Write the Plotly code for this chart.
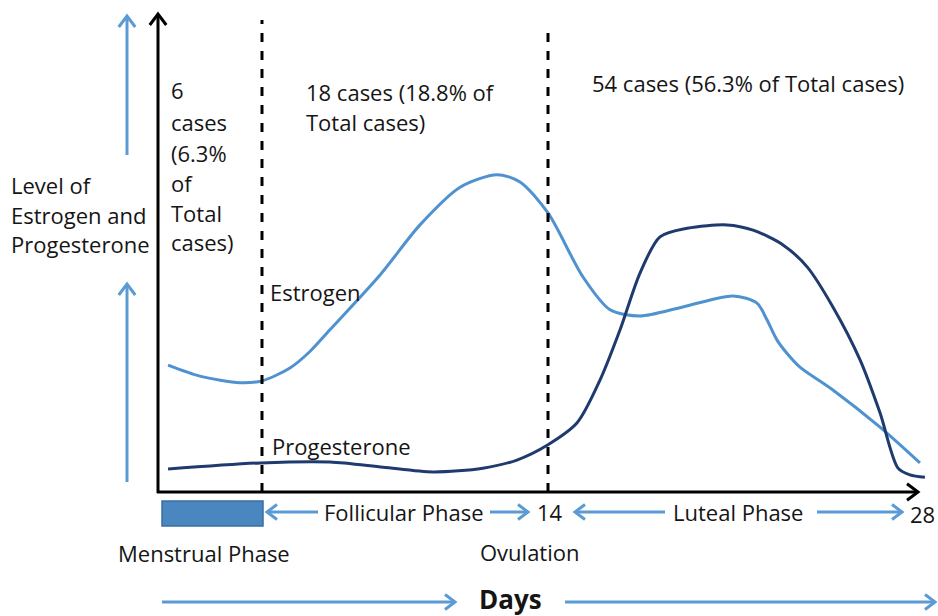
import math
import plotly.graph_objects as go

# ---------------- data (days, relative hormone level) ----------------
estrogen_day = [0.29, 1.44, 2.89, 3.68, 4.69, 5.4, 6.13, 7.94, 9.38, 10.83, 12.16, 12.99, 14.0,
                15.26, 16.24, 17.32, 18.87, 20.68, 21.54, 21.90, 22.26, 22.62, 23.09, 24.28, 25.98, 27.42]
estrogen_lvl = [26.6, 24.3, 22.9, 23.3, 26.0, 29.4, 34.0, 45.5, 56.0, 63.9, 66.5, 65.0, 58.5,
                45.1, 38.2, 36.9, 38.8, 41.1, 39.6, 36.1, 31.9, 29.1, 26.2, 21.4, 13.6, 6.1]

progesterone_day = [0.29, 3.61, 6.13, 8.05, 9.85, 11.65, 12.88, 14.0, 15.05, 15.88, 16.60, 17.32,
                    18.04, 19.02, 20.46, 21.40, 22.48, 23.35, 24.28, 25.26, 25.98, 26.63, 27.06, 27.60]
progesterone_lvl = [4.8, 6.1, 6.3, 5.2, 4.2, 5.0, 6.7, 9.9, 14.5, 23.5, 34.0, 45.9,
                    53.5, 55.3, 56.0, 54.9, 51.8, 47.2, 38.8, 27.7, 16.6, 5.0, 3.6, 3.1]

menstrual_end_day = 3.68
ovulation_day = 14
tick_labels = ["14", "28"]

case_texts_1 = ["6", "cases", "(6.3%", "of", "Total", "cases)"]
case_texts_2 = ["18 cases (18.8% of", "Total cases)"]
case_text_3 = "54 cases (56.3% of Total cases)"
ylabel_lines = ["Level of", "Estrogen and", "Progesterone"]

# ---------------- layout helpers ----------------
W, H = 938, 616
KX = 27.714   # px per day
KY = 4.77     # px per level unit
X0, Y0 = 160, 492  # pixel position of origin


def X(px):
    return (px - X0) / KX


def Y(py):
    return (Y0 - py) / KY


LIGHT = "#4F92D0"
DARK = "#1F3A6E"
ARW = "#5B9BD5"
RECT = "#4A86C0"
TXT = "#151515"
FONT = "Open Sans"

fig = go.Figure()
fig.add_trace(go.Scatter(x=estrogen_day, y=estrogen_lvl, mode="lines",
                         line=dict(color=LIGHT, width=3, shape="spline", smoothing=0.8),
                         hoverinfo="skip", showlegend=False))
fig.add_trace(go.Scatter(x=progesterone_day, y=progesterone_lvl, mode="lines",
                         line=dict(color=DARK, width=3, shape="spline", smoothing=0.8),
                         hoverinfo="skip", showlegend=False))

shapes = []


def arrow(x0, y0, x1, y1, color, width=3, head=10):
    """Arrow from pixel (x0,y0) to tip (x1,y1), with an open chevron head."""
    shapes.append(dict(type="line", x0=X(x0), y0=Y(y0), x1=X(x1), y1=Y(y1),
                       line=dict(color=color, width=width)))
    dx, dy = x1 - x0, y1 - y0
    L = math.hypot(dx, dy)
    ux, uy = dx / L, dy / L
    px_, py_ = -uy, ux
    a = (x1 - ux * head + px_ * head * 0.75, y1 - uy * head + py_ * head * 0.75)
    b = (x1 - ux * head - px_ * head * 0.75, y1 - uy * head - py_ * head * 0.75)
    path = "M {} {} L {} {} L {} {}".format(X(a[0]), Y(a[1]), X(x1), Y(y1), X(b[0]), Y(b[1]))
    shapes.append(dict(type="path", path=path, line=dict(color=color, width=width)))


# axes
arrow(158, 493, 158, 14, "black", 3, 11)
arrow(157, 492, 918, 492, "black", 3, 11)
# left light arrows
arrow(127, 155, 127, 16, ARW, 3, 11)
arrow(127, 482, 127, 284, ARW, 3, 11)
# phase arrows
arrow(318, 512, 267, 512, ARW, 3, 10)
arrow(490, 512, 528, 512, ARW, 3, 10)
arrow(665, 512, 575, 512, ARW, 3, 10)
arrow(817, 512, 902, 512, ARW, 3, 10)
# days arrows
arrow(162, 602, 455, 602, ARW, 3, 10)
arrow(565, 602, 935, 602, ARW, 3, 10)

# dashed lines
shapes.append(dict(type="line", x0=menstrual_end_day, x1=menstrual_end_day, y0=Y(492), y1=Y(20),
                   line=dict(color="black", width=3, dash="dash")))
shapes.append(dict(type="line", x0=ovulation_day, x1=ovulation_day, y0=Y(492), y1=Y(28),
                   line=dict(color="black", width=3, dash="dash")))
# menstrual rectangle
shapes.append(dict(type="rect", x0=X(162), x1=X(263), y0=Y(526), y1=Y(501),
                   line=dict(color="#3A6E9F", width=1.5), fillcolor=RECT))

ann = []


def text(t, px, py, anchor="left", size=22, bold=False):
    ann.append(dict(x=X(px), y=Y(py), text=("<b>%s</b>" % t) if bold else t, showarrow=False,
                    xanchor=anchor, yanchor="middle",
                    font=dict(family=FONT, size=size, color=TXT)))


for i, t in enumerate(case_texts_1):
    text(t, 169, [90, 122, 153, 183, 213, 242][i])
for i, t in enumerate(case_texts_2):
    text(t, 304, [92, 122][i])
text(case_text_3, 590, 83)
for i, t in enumerate(ylabel_lines):
    text(t, 9, [185, 215, 244][i])
text("Estrogen", 268, 292)
text("Progesterone", 270, 446)
text("Follicular Phase", 404, 512, "center")
text(tick_labels[0], X0 + ovulation_day * KX + 2, 512, "center")
text("Luteal Phase", 738, 512, "center")
text(tick_labels[1], 922, 514, "center")
text("Menstrual Phase", 204, 553, "center")
text("Ovulation", 530, 552, "center")
text("Days", 510, 599, "center", size=26, bold=True)

fig.update_layout(
    width=W, height=H, margin=dict(l=0, r=0, t=0, b=0),
    paper_bgcolor="white", plot_bgcolor="white",
    xaxis=dict(range=[X(0), X(W)], visible=False, fixedrange=True),
    yaxis=dict(range=[Y(H), Y(0)], visible=False, fixedrange=True),
    shapes=shapes, annotations=ann, showlegend=False,
)
fig.write_html("out.html", config={"displayModeBar": False},
               post_script="document.body.style.margin='0';document.body.style.padding='0';")
